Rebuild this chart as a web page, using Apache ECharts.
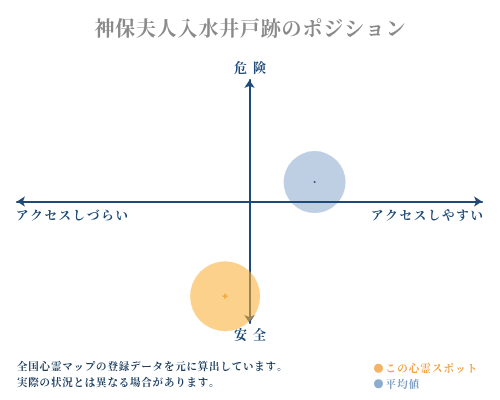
<!DOCTYPE html>
<html><head><meta charset="utf-8">
<script src="https://cdn.jsdelivr.net/npm/echarts@6/dist/echarts.min.js"></script>
<style>html,body{margin:0;padding:0;background:#fff}#c{width:500px;height:400px}</style>
</head><body><div id="c"></div>
<script>
const titleText = '神保夫人入水井戸跡のポジション';
const axisLabels = { top: '危険', bottom: '安全', left: 'アクセスしづらい', right: 'アクセスしやすい' };
const seriesNames = ['この心霊スポット', '平均値'];
const spotPoint = [-10.5, -78];
const avgPoint = [28, 16];
const noteLines = ['全国心霊マップの登録データを元に算出しています。', '実際の状況とは異なる場合があります。'];

const navy = '#1d4a78';
const fontFam = '"Noto Serif CJK JP", serif, "Noto Sans CJK JP"';
function spaced(t, key) { return t.split('').map(c => '{' + key + '|' + c + '}').join(''); }
function richText(t, size, w, color) {
  return { text: spaced(t, 's'), rich: { s: { fontSize: size, fontFamily: fontFam, fontWeight: 'bold', fill: color, color: color, width: w, align: 'center' } } };
}
const chart = echarts.init(document.getElementById('c'));
chart.setOption({
  animation: false,
  grid: { left: 17, right: 18, top: 80, bottom: 77 },
  xAxis: { type: 'value', min: -100, max: 100, axisLabel: { show: false }, axisTick: { show: false }, splitLine: { show: false },
    axisLine: { onZero: true, symbol: ['arrow', 'arrow'], symbolSize: [8, 8], lineStyle: { color: navy, width: 2 } } },
  yAxis: { type: 'value', min: -100, max: 100, axisLabel: { show: false }, axisTick: { show: false }, splitLine: { show: false },
    axisLine: { onZero: true, symbol: ['arrow', 'arrow'], symbolSize: [8, 8], lineStyle: { color: navy, width: 2 } } },
  legend: {
    orient: 'vertical', left: 369, top: 358, itemGap: 5, itemWidth: 9, itemHeight: 9, icon: 'circle',
    formatter: name => spaced(name, name === seriesNames[0] ? 'o' : 'b'),
    textStyle: { padding: [0, 0, 0, -3], rich: {
      o: { fontSize: 10.5, fontFamily: fontFam, fontWeight: 'bold', color: '#eea24a', width: 11.6, align: 'center' },
      b: { fontSize: 10.5, fontFamily: fontFam, fontWeight: 'bold', color: '#7f9fc4', width: 11.6, align: 'center' } } },
    data: [
      { name: seriesNames[0], itemStyle: { color: '#f0a040' } },
      { name: seriesNames[1], itemStyle: { color: '#6f97c2' } }
    ]
  },
  graphic: [
    { type: 'text', left: 'center', top: 18, style: richText(titleText, 20, 20.8, '#8a8a8a') },
    { type: 'text', left: 'center', top: 61, style: richText(axisLabels.top, 13, 19, navy) },
    { type: 'text', left: 'center', top: 328, style: richText(axisLabels.bottom, 13, 19, navy) },
    { type: 'text', left: 16, top: 209, style: richText(axisLabels.left, 12.5, 14.2, navy) },
    { type: 'text', right: 17, top: 209, style: richText(axisLabels.right, 12.5, 14.2, navy) },
    { type: 'text', left: 17, top: 361, style: richText(noteLines[0], 10.5, 11.3, '#1d3d5e') },
    { type: 'text', left: 17, top: 377, style: richText(noteLines[1], 10.5, 11.3, '#1d3d5e') }
  ],
  series: [
    { name: seriesNames[0], type: 'scatter', symbolSize: 70, data: [spotPoint],
      itemStyle: { color: 'rgba(250,175,55,0.72)' }, z: 3 },
    { name: seriesNames[1], type: 'scatter', symbolSize: 62, data: [avgPoint],
      itemStyle: { color: 'rgba(120,152,196,0.6)' }, z: -1 },
    { name: 'spotCenter', type: 'scatter', symbol: 'path://M2,0H4V2H6V4H4V6H2V4H0V2H2Z', symbolSize: 5, data: [spotPoint],
      itemStyle: { color: '#f0a020' }, z: 4, silent: true },
    { name: 'avgCenter', type: 'scatter', symbolSize: 2, data: [avgPoint],
      itemStyle: { color: '#1d3050' }, z: 4, silent: true }
  ]
});
</script></body></html>
